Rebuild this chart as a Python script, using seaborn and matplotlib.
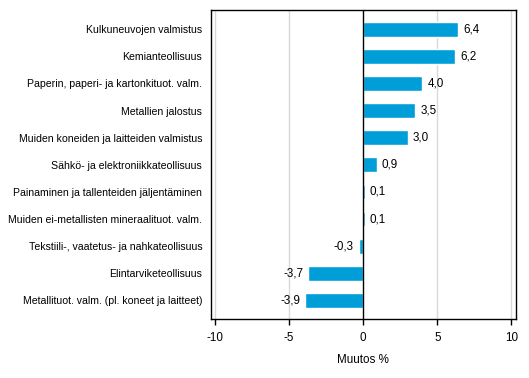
import matplotlib
matplotlib.use("Agg")
import matplotlib.pyplot as plt
import seaborn as sns
import pandas as pd

categories = [
    "Kulkuneuvojen valmistus",
    "Kemianteollisuus",
    "Paperin, paperi- ja kartonkituot. valm.",
    "Metallien jalostus",
    "Muiden koneiden ja laitteiden valmistus",
    "Sähkö- ja elektroniikkateollisuus",
    "Painaminen ja tallenteiden jäljentäminen",
    "Muiden ei-metallisten mineraalituot. valm.",
    "Tekstiili-, vaatetus- ja nahkateollisuus",
    "Elintarviketeollisuus",
    "Metallituot. valm. (pl. koneet ja laitteet)",
]
values = [6.4, 6.2, 4.0, 3.5, 3.0, 0.9, 0.1, 0.1, -0.3, -3.7, -3.9]
xticks = [-10, -5, 0, 5, 10]
xlabel = "Muutos %"

sns.set_style("white")
plt.rcParams['font.family'] = ['Liberation Sans', 'DejaVu Sans']
plt.rcParams['text.color'] = 'black'
plt.rcParams['axes.labelcolor'] = 'black'
plt.rcParams['xtick.color'] = 'black'
plt.rcParams['ytick.color'] = 'black'
FS = 7.6
FSX = 8.4

df = pd.DataFrame({"cat": categories, "val": values})

fig = plt.figure(figsize=(5.29, 3.78), dpi=100)
ax = fig.add_axes([0.398, 0.155, 0.578, 0.818])

for x in xticks:
    if x != 0:
        ax.axvline(x, color="#d9d9d9", lw=1, zorder=0)

sns.barplot(data=df, x="val", y="cat", color="#009ED8", saturation=1,
            width=0.54, orient="h", ax=ax, zorder=2)
ax.axvline(0, color="black", lw=1, zorder=3)

for i, v in enumerate(values):
    txt = f"{v:.1f}".replace(".", ",")
    if v >= 0:
        ax.text(v + 0.35, i, txt, va="center", ha="left", fontsize=FSX, color="black")
    else:
        ax.text(v - 0.35, i, txt, va="center", ha="right", fontsize=FSX, color="black")

ax.set_xlim(-10.31, 10.34)
ax.set_ylim(10.7, -0.7)
ax.set_xticks(xticks)
ax.set_xticklabels([str(x) for x in xticks], fontsize=FSX)
ax.tick_params(axis="x", direction="out", length=4, width=1, color="black",
               labelcolor="black", pad=5, bottom=True)
ax.tick_params(axis="y", length=0, labelsize=FS, labelcolor="black", pad=6)
ax.set_xlabel(xlabel, fontsize=FSX, labelpad=7, color="black")
ax.set_ylabel("")
for s in ax.spines.values():
    s.set_color("black")
    s.set_linewidth(1)
    s.set_visible(True)

fig.savefig("out.png", dpi=100)
